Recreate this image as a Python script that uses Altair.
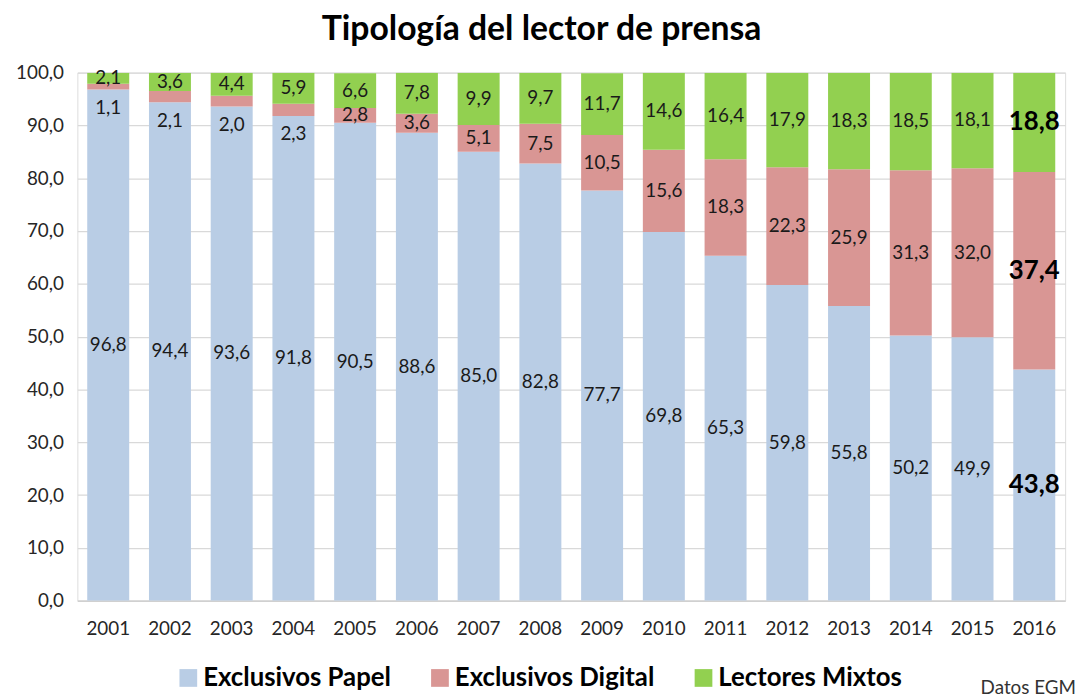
import altair as alt
import pandas as pd

years = [str(y) for y in range(2001, 2017)]
papel = [96.8, 94.4, 93.6, 91.8, 90.5, 88.6, 85.0, 82.8, 77.7, 69.8, 65.3, 59.8, 55.8, 50.2, 49.9, 43.8]
digital = [1.1, 2.1, 2.0, 2.3, 2.8, 3.6, 5.1, 7.5, 10.5, 15.6, 18.3, 22.3, 25.9, 31.3, 32.0, 37.4]
mixtos = [2.1, 3.6, 4.4, 5.9, 6.6, 7.8, 9.9, 9.7, 11.7, 14.6, 16.4, 17.9, 18.3, 18.5, 18.1, 18.8]
series = ["Exclusivos Papel", "Exclusivos Digital", "Lectores Mixtos"]
colors = ["#B9CDE5", "#D99694", "#92D050"]

FONT = "Lato"

rows = []
for i, yr in enumerate(years):
    base = 0.0
    for k, vals in enumerate([papel, digital, mixtos]):
        v = vals[i]
        lo = base
        hi = min(base + v, 100.0)
        mid = (lo + hi) / 2
        if k == 1 and v < 2.5:
            mid = lo - 3.5
        rows.append({
            "year": yr, "serie": series[k], "order": k, "value": v,
            "lo": lo, "hi": hi, "mid": mid,
            "label": f"{v:.1f}".replace(".", ","),
            "last": yr == years[-1],
        })
        base += v
df = pd.DataFrame(rows)

x_enc = alt.X("year:N", title=None, sort=years,
              scale=alt.Scale(paddingInner=0.32, paddingOuter=0.16),
              axis=alt.Axis(labelAngle=0, labelFontSize=19, labelFont=FONT,
                            labelColor="#262626", ticks=False, labelPadding=19,
                            domainColor="#D0D0D0", domainWidth=1.5))
y_scale = alt.Scale(domain=[0, 100], nice=False)

bars = alt.Chart(df).mark_bar(clip=True).encode(
    x=x_enc,
    y=alt.Y("lo:Q", scale=y_scale, title=None,
            axis=alt.Axis(values=list(range(0, 101, 10)), labelFontSize=19,
                          labelFont=FONT, labelColor="#262626", ticks=False,
                          domain=False, labelPadding=14,
                          labelExpr="replace(format(datum.value, '.1f'), '.', ',')",
                          gridColor="#D9D9D9", gridWidth=1.3)),
    y2="hi:Q",
    color=alt.Color("serie:N", scale=alt.Scale(domain=series, range=colors),
                    legend=alt.Legend(title=None, orient="none", direction="horizontal",
                                      legendX=99, legendY=598,
                                      symbolType="square", symbolSize=320,
                                      symbolStrokeWidth=0, symbolOpacity=1,
                                      labelFontSize=26, labelFontWeight="bold",
                                      labelFont=FONT, labelColor="#000000",
                                      columnPadding=36, labelOffset=2,
                                      labelLimit=400)),
    order=alt.Order("order:Q"),
)

labels = alt.Chart(df).transform_filter("!datum.last").mark_text(
    fontSize=19, font=FONT, color="#1A1A1A", baseline="middle", align="center"
).encode(
    x=alt.X("year:N", sort=years),
    y=alt.Y("mid:Q", scale=y_scale),
    text="label:N",
)

labels_last = alt.Chart(df).transform_filter("datum.last").mark_text(
    fontSize=26, font=FONT, fontWeight="bold", color="#000000",
    baseline="middle", align="center"
).encode(
    x=alt.X("year:N", sort=years),
    y=alt.Y("mid:Q", scale=y_scale),
    text="label:N",
)

source = alt.Chart(pd.DataFrame({"t": ["Datos EGM"]})).mark_text(
    fontSize=19, font=FONT, color="#333333", align="right", baseline="middle"
).encode(
    x=alt.value(1008), y=alt.value(621), text="t:N"
)

chart = alt.layer(bars, labels, labels_last, source).properties(
    width=997, height=533,
    title=alt.TitleParams("Tipología del lector de prensa", fontSize=34,
                          font=FONT, fontWeight="bold", color="#000000",
                          anchor="middle", dx=-30, offset=17),
    autosize=alt.AutoSizeParams(type="none"),
    padding={"left": 70, "top": 62, "right": 13, "bottom": 96},
).configure_view(stroke=None).configure(background="white")

chart.save("out.html", embed_options={"renderer": "svg", "actions": False})
